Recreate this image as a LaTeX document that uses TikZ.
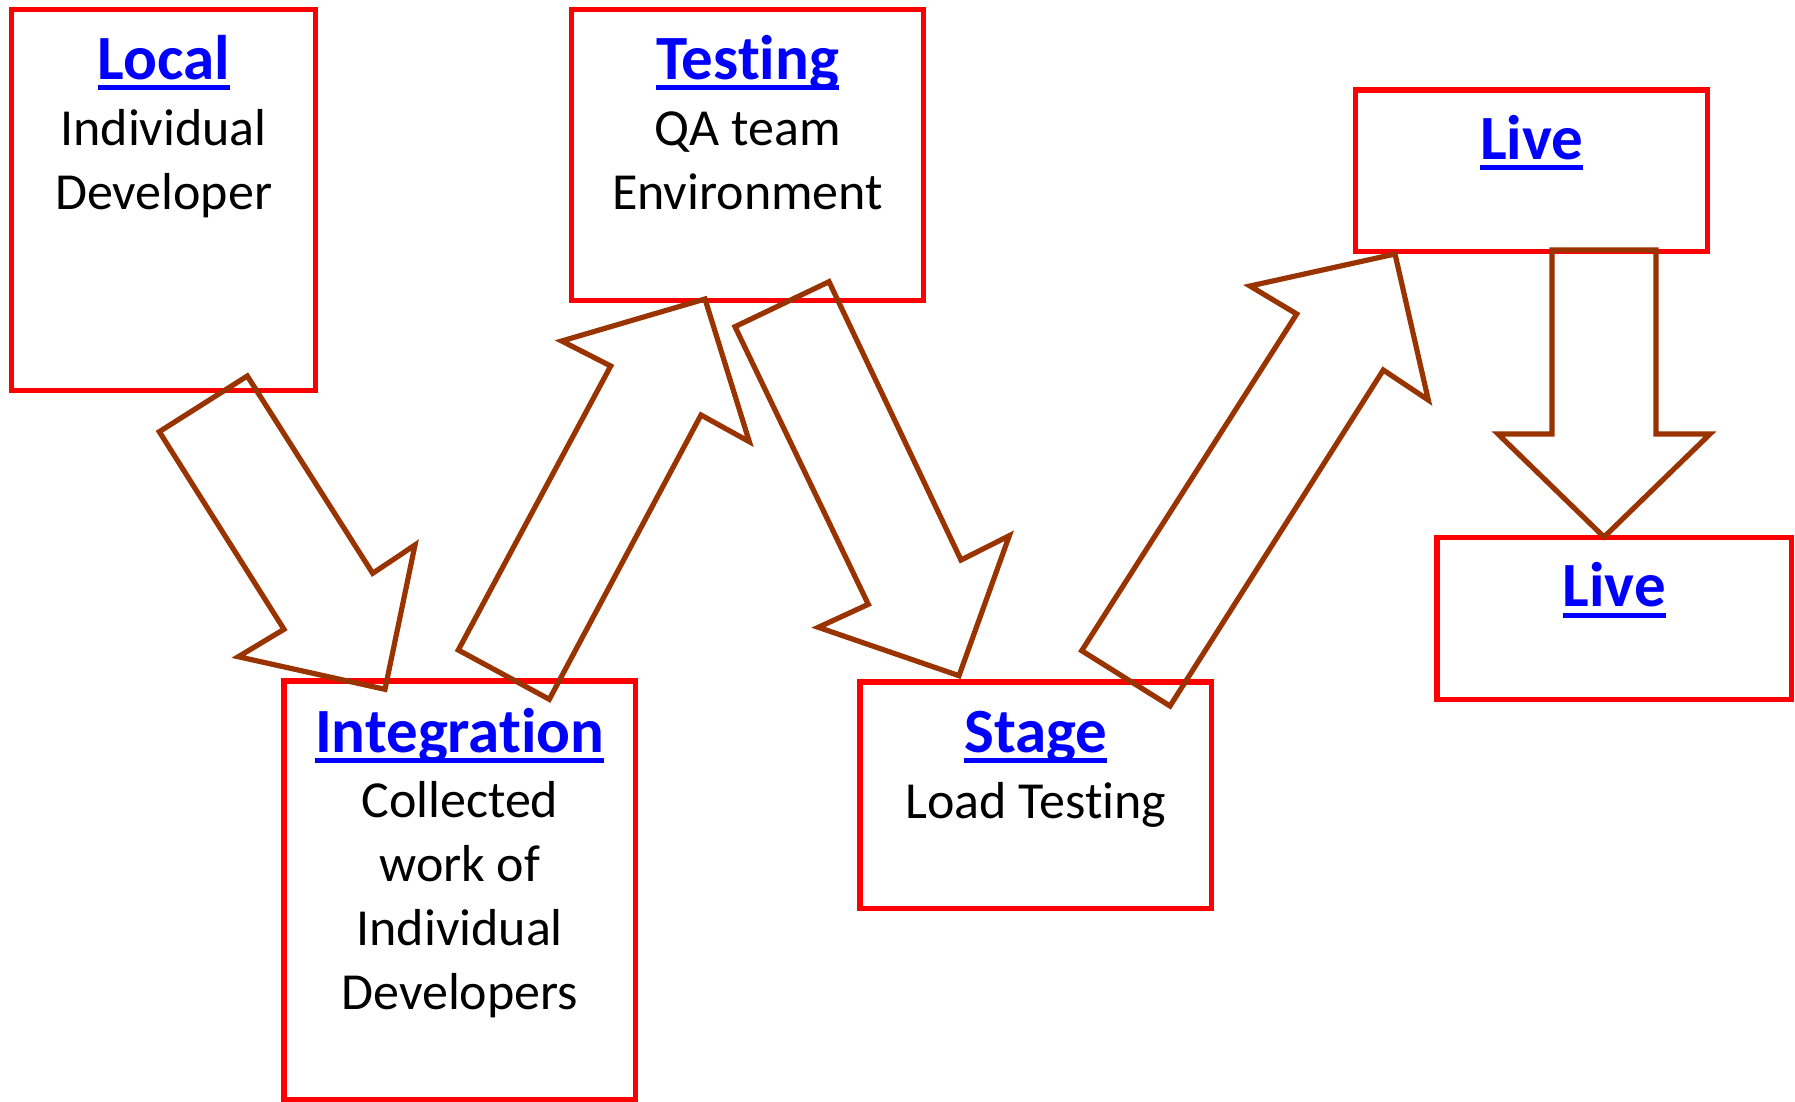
\documentclass[tikz,border=0pt]{standalone}
\usepackage{fontspec}
\setmainfont{Carlito}[Ligatures={NoCommon,NoContextual,NoRare}]
\definecolor{boxred}{RGB}{255,0,0}
\definecolor{arrowbrown}{RGB}{153,51,0}
\definecolor{linkblue}{RGB}{0,0,255}
\newcommand\ultext[1]{\setbox0=\hbox{#1}\rlap{\rule[-11pt]{\wd0}{5pt}}\box0}
\newcommand\nolig{\kern0pt\relax}
\tikzset{
  envbox/.style={draw=boxred, line width=5.2pt, rectangle, inner sep=0pt},
  titletext/.style={anchor=base, inner sep=0pt, text=linkblue, font=\fontsize{63}{75}\selectfont\bfseries},
  bodytext/.style={anchor=base, inner sep=0pt, text=black, font=\fontsize{52}{64}\selectfont},
  blockarrow/.style={draw=arrowbrown, line width=5.2pt, line join=miter, miter limit=10}
}
\begin{document}
\begin{tikzpicture}[x=1pt,y=-1pt]
\useasboundingbox (0,0) rectangle (1795,1101);
\clip (0,0) rectangle (1795,1101);
% boxes
\node[envbox, minimum width=304.2pt, minimum height=381pt] (local) at (163.6,200) {};
\node[envbox, minimum width=351.8pt, minimum height=291.2pt] (testing) at (747.6,155.1) {};
\node[envbox, minimum width=351.5pt, minimum height=419pt] (integ) at (459.75,890.5) {};
\node[envbox, minimum width=351.7pt, minimum height=226.4pt] (stage) at (1035.85,795.2) {};
\node[envbox, minimum width=352pt, minimum height=161.5pt] (liveA) at (1531.7,170.75) {};
\node[envbox, minimum width=354.6pt, minimum height=161.8pt] (liveB) at (1614.3,618.6) {};
% texts
\node[titletext] (localT) at (163.6,79) {\ultext{Local}};
\node[bodytext] (localL1) at (163.6,145.5) {Individual};
\node[bodytext] (localL2) at (163.6,209.5) {Developer};
\node[titletext] (testingT) at (747.6,79) {\ultext{Test\nolig ing}};
\node[bodytext] (testingL1) at (747.6,145.5) {QA team};
\node[bodytext] (testingL2) at (747.6,209.5) {Environment};
\node[titletext] (integT) at (459.75,752) {\ultext{Integrat\nolig ion}};
\node[bodytext] (integL1) at (459.75,817.5) {Collected};
\node[bodytext] (integL2) at (459.75,881.5) {work of};
\node[bodytext] (integL3) at (459.75,945.5) {Individual};
\node[bodytext] (integL4) at (459.75,1009) {Developers};
\node[titletext] (stageT) at (1035.85,752) {\ultext{Stage}};
\node[bodytext] (stageL1) at (1035.85,818.5) {Load Test\nolig ing};
\node[titletext] (liveAT) at (1531.7,159) {\ultext{Live}};
\node[titletext] (liveBT) at (1614.3,606.5) {\ultext{Live}};
% block arrows
\draw[blockarrow] (247.3,376) -- (372.7,573.3) -- (415,545) -- (385,689.3) -- (238.3,656.7) -- (284,629.3) -- (159.3,431.7) -- cycle;
\draw[blockarrow] (458.3,650) -- (549.3,699.3) -- (701,415) -- (749.3,441.7) -- (705,299) -- (561.7,341) -- (610.7,366) -- cycle;
\draw[blockarrow] (829,281.7) -- (961,560) -- (1009.3,535.7) -- (959,675.7) -- (818.3,627.3) -- (868.3,604.3) -- (735,326.7) -- cycle;
\draw[blockarrow] (1081.7,650.7) -- (1170,706) -- (1383.3,370) -- (1428.3,400) -- (1395,254) -- (1250,286) -- (1296.7,314) -- cycle;
\draw[blockarrow] (1552,250) -- (1656,250) -- (1656,434) -- (1710,434) -- (1604,537) -- (1498,434) -- (1552,434) -- cycle;
\end{tikzpicture}
\end{document}
